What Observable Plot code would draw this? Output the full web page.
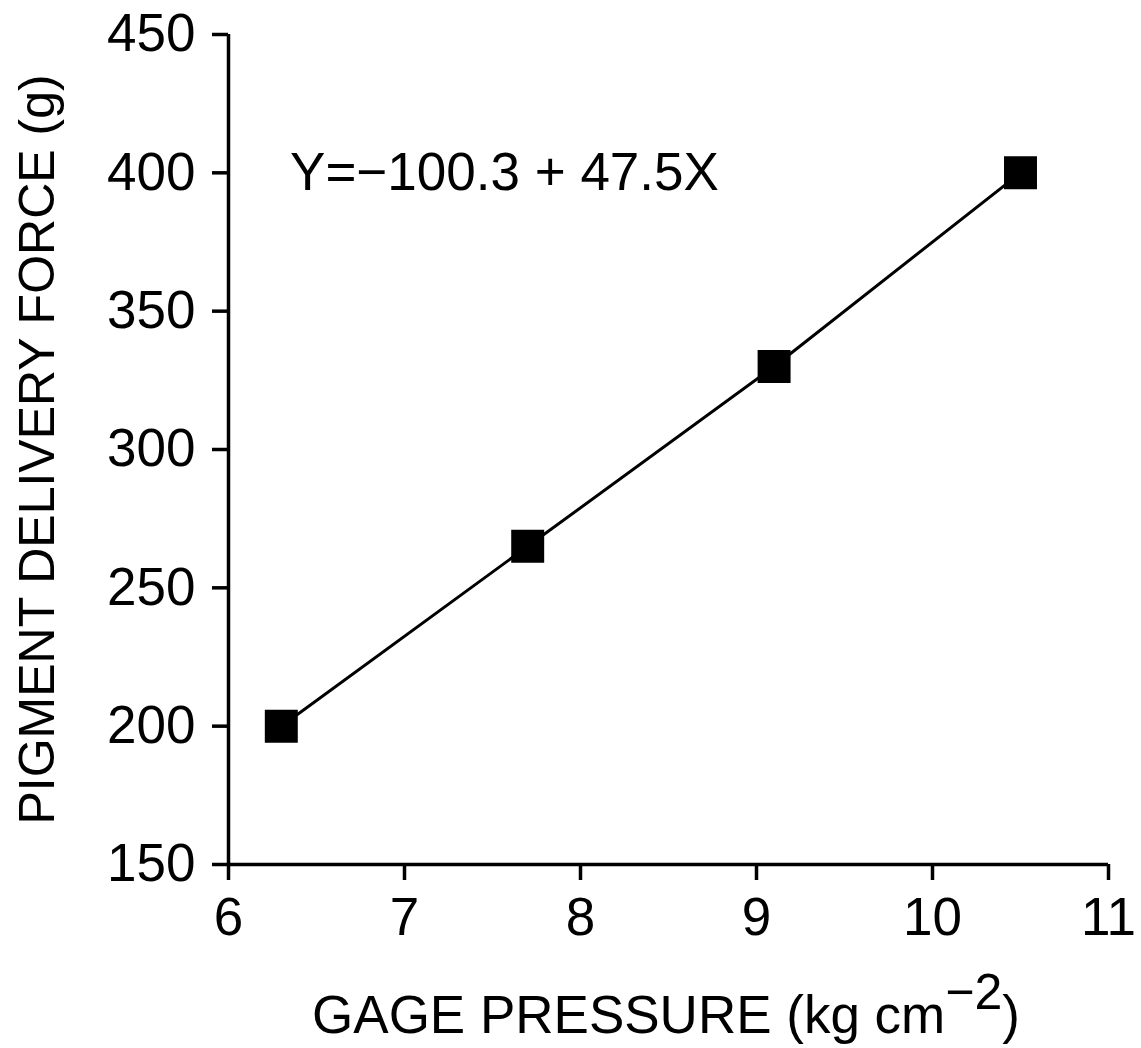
<!DOCTYPE html>
<html><head><meta charset="utf-8">
<script src="https://cdn.jsdelivr.net/npm/d3@7"></script>
<script src="https://cdn.jsdelivr.net/npm/@observablehq/plot@0.6"></script>
<style>body{margin:0;background:#fff} svg{display:block}</style>
</head><body><div id="chart"></div>
<script>
const pressure = [6.3, 7.7, 9.1, 10.5];
const force = [200, 265, 330, 400];
const xTicks = [6, 7, 8, 9, 10, 11];
const yTicks = [150, 200, 250, 300, 350, 400, 450];
const equation = "Y=−100.3 + 47.5X";
const yLabel = "PIGMENT DELIVERY FORCE (g)";
const xLabelMain = "GAGE PRESSURE (kg cm";
const xLabelSup = "−2";
const xLabelEnd = ")";

const data = pressure.map((x, i) => ({x, y: force[i]}));
const FONT = "'Liberation Sans', Arial, Helvetica, sans-serif";

const chart = Plot.plot({
  width: 1141, height: 1048,
  marginLeft: 228, marginRight: 33, marginTop: 34, marginBottom: 184,
  style: {fontFamily: FONT, background: "#fff", color: "#000"},
  x: {domain: [6, 11]},
  y: {domain: [150, 450]},
  marks: [
    Plot.axisX({ticks: xTicks, tickSize: 16, tickPadding: 17, fontSize: 53, strokeWidth: 3.5, tickFormat: d => String(d), label: null}),
    Plot.axisY({ticks: yTicks, tickSize: 16, tickPadding: 17, fontSize: 53, strokeWidth: 3.5, tickFormat: d => String(d), label: null}),
    Plot.ruleX([6], {strokeWidth: 3.5}),
    Plot.ruleY([150], {strokeWidth: 3.5}),
    Plot.line(data, {x: "x", y: "y", strokeWidth: 3}),
    Plot.dot(data, {x: "x", y: "y", symbol: "square", r: 18.6, fill: "black"}),
    Plot.text([equation], {x: 6.35, y: 400, text: d => d, textAnchor: "start", fontSize: 53}),
    Plot.text([yLabel], {frameAnchor: "left", text: d => d, rotate: -90, textAnchor: "middle", lineAnchor: "middle", dx: -191, fontSize: 50})
  ]
});

const svg = d3.select(chart);
const t = svg.append("text")
  .attr("x", 666).attr("y", 1033)
  .attr("text-anchor", "middle")
  .attr("font-size", 53)
  .attr("font-family", FONT)
  .attr("fill", "#000");
t.append("tspan").text(xLabelMain);
t.append("tspan").attr("dy", -24).attr("font-size", 50).text(xLabelSup);
t.append("tspan").attr("dy", 24).text(xLabelEnd);

document.getElementById("chart").appendChild(chart);
</script>
</body></html>
